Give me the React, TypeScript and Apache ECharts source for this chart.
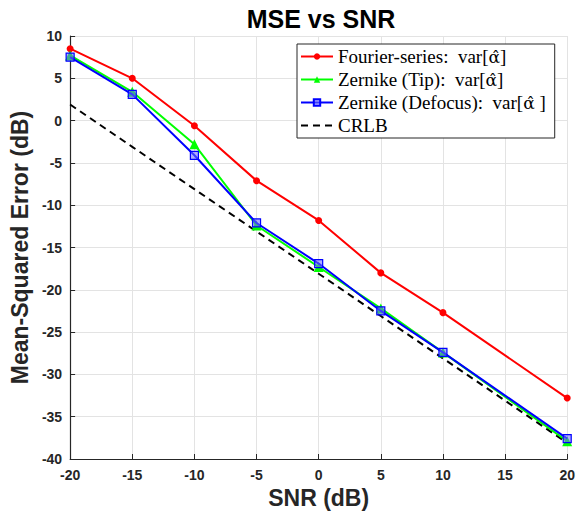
import React, { useEffect, useRef } from "react";
import * as echarts from "echarts";

const snrPoints = [-20, -15, -10, -5, 0, 5, 10, 20];
const fourierValues = [8.5, 5.0, -0.6, -7.1, -11.8, -18.0, -22.7, -32.8];
const tipValues = [7.7, 3.4, -2.8, -12.4, -17.3, -22.2, -27.4, -37.9];
const defocusValues = [7.5, 3.1, -4.1, -12.1, -16.9, -22.5, -27.4, -37.6];
const crlbSnr = [-20, -15, -10, -5, 0, 5, 10, 15, 20];
const crlbValues = [1.9, -3.1, -8.1, -13.1, -18.1, -23.1, -28.1, -33.1, -38.1];
const seriesNames = [
  "Fourier-series:  var[α\u0302]",
  "Zernike (Tip):  var[α\u0302]",
  "Zernike (Defocus):  var[α\u0302 ]",
  "CRLB",
];

const pair = (xs: number[], ys: number[]) => xs.map((x, i) => [x, ys[i]]);

const AX = "#262626";
const SANS = "Liberation Sans, Arial, sans-serif";

const legendFormatter = (name: string) => {
  const idx = name.indexOf("α\u0302");
  if (idx < 0) return "{a|" + name + "}";
  return (
    "{a|" + name.slice(0, idx) + "}{b|α\u0302}{a|" + name.slice(idx + 2) + "}"
  );
};

export default function App() {
  const ref = useRef<HTMLDivElement>(null);
  useEffect(() => {
    if (!ref.current) return;
    const chart = echarts.init(ref.current, undefined, { renderer: "svg" });
    chart.setOption({
      animation: false,
      backgroundColor: "#ffffff",
      title: {
        text: "MSE vs SNR",
        left: 316,
        top: 1,
        textAlign: "center",
        textStyle: { fontFamily: SANS, fontWeight: "bold", fontSize: 25, color: "#000" },
      },
      grid: { left: 63, right: 9, top: 36, bottom: 57, containLabel: false },
      legend: {
        left: 297,
        top: 44,
        orient: "vertical",
        data: [
          seriesNames[0],
          seriesNames[1],
          seriesNames[2],
          { name: seriesNames[3], itemStyle: { opacity: 0 } },
        ],
        formatter: legendFormatter,
        backgroundColor: "#ffffff",
        borderColor: AX,
        borderWidth: 1,
        borderRadius: 0,
        padding: [3, 9, 3, 3],
        itemWidth: 32,
        itemHeight: 8,
        itemGap: 4,
        textStyle: {
          fontFamily: "Liberation Serif, serif",
          fontSize: 19,
          color: "#000",
          rich: {
            a: { fontFamily: "Liberation Serif, serif", fontSize: 19, color: "#000" },
            b: { fontFamily: "DejaVu Serif, serif", fontSize: 17, color: "#000" },
          },
        },
      },
      xAxis: {
        type: "value",
        min: -20,
        max: 20,
        interval: 5,
        name: "SNR (dB)",
        nameLocation: "middle",
        nameGap: 27,
        nameTextStyle: { fontFamily: SANS, fontWeight: "bold", fontSize: 23, color: AX },
        axisLine: { show: true, onZero: false, lineStyle: { color: AX, width: 1.2 } },
        axisTick: { show: true, inside: true, length: 5, lineStyle: { color: AX } },
        axisLabel: { fontFamily: SANS, fontWeight: "bold", fontSize: 14, color: AX, margin: 9 },
        splitLine: { show: true, lineStyle: { color: "#e3e3e3", width: 1 } },
      },
      yAxis: {
        type: "value",
        min: -40,
        max: 10,
        interval: 5,
        name: "Mean-Squared Error (dB)",
        nameLocation: "middle",
        nameGap: 31,
        nameTextStyle: { fontFamily: SANS, fontWeight: "bold", fontSize: 23, color: AX },
        axisLine: { show: true, onZero: false, lineStyle: { color: AX, width: 1.2 } },
        axisTick: { show: true, inside: true, length: 5, lineStyle: { color: AX } },
        axisLabel: { fontFamily: SANS, fontWeight: "bold", fontSize: 14, color: AX, margin: 8 },
        splitLine: { show: true, lineStyle: { color: "#e3e3e3", width: 1 } },
      },
      series: [
        {
          name: seriesNames[0],
          type: "line",
          data: pair(snrPoints, fourierValues),
          z: 3,
          symbol: "circle",
          symbolSize: 7,
          lineStyle: { color: "#ff0000", width: 2 },
          itemStyle: { color: "#ff0000" },
        },
        {
          name: seriesNames[1],
          type: "line",
          data: pair(snrPoints, tipValues),
          z: 3,
          symbol: "triangle",
          symbolSize: 10,
          lineStyle: { color: "#00ff00", width: 2 },
          itemStyle: { color: "#00ff00" },
        },
        {
          name: seriesNames[2],
          type: "line",
          data: pair(snrPoints, defocusValues),
          z: 4,
          symbol: "rect",
          symbolSize: 8,
          lineStyle: { color: "#0000ff", width: 2 },
          itemStyle: { color: "rgba(110,110,255,0.55)", borderColor: "#0000ff", borderWidth: 1.2 },
        },
        {
          name: seriesNames[3],
          type: "line",
          data: pair(crlbSnr, crlbValues),
          z: 2,
          symbol: "none",
          lineStyle: { color: "#000000", width: 2, type: [7, 5] },
          itemStyle: { color: "#000000" },
        },
      ],
    });
    return () => chart.dispose();
  }, []);
  return (
    <div
      ref={ref}
      style={{ position: "fixed", left: 0, top: 0, width: 578, height: 516 }}
    />
  );
}
